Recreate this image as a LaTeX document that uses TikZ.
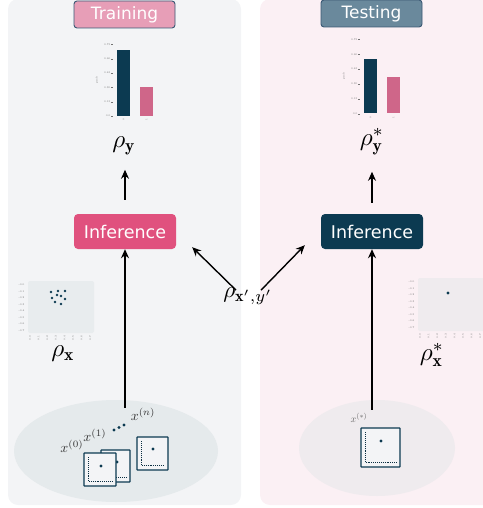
\documentclass[tikz,border=0pt]{standalone}
\usepackage{amsmath}
\usepackage{amssymb}
\usepackage{fontspec}
\setsansfont{DejaVu Sans}
\usetikzlibrary{arrows.meta,shapes.geometric}

\definecolor{panelL}{HTML}{F3F4F6}
\definecolor{panelR}{HTML}{FBF0F4}
\definecolor{navy}{HTML}{0C3A51}
\definecolor{rose}{HTML}{CF6689}
\definecolor{hot}{HTML}{E0517E}
\definecolor{tagpink}{HTML}{E79EB7}
\definecolor{tagblue}{HTML}{6A899C}
\definecolor{tagline}{HTML}{3A5874}
\definecolor{plotbg}{HTML}{E8ECEE}
\definecolor{plotbgR}{HTML}{EFEBEE}
\definecolor{cloudL}{HTML}{E5EAEC}
\definecolor{cloudR}{HTML}{EFEBEE}

\tikzset{
  tag/.style={draw=tagline, line width=0.9pt, rounded corners=3pt, text=white,
    font=\sffamily\fontsize{17}{17}\selectfont, minimum width=101pt, minimum height=27pt, inner sep=0pt},
  inferbox/.style={rounded corners=4pt, text=white,
    font=\sffamily\fontsize{17.5}{18}\selectfont, minimum width=102pt, minimum height=35pt, inner sep=0pt},
  mathlbl/.style={scale=2.5, inner sep=0.5pt},
  setlbl/.style={scale=1.4, inner sep=0pt, text=black!80},
  flow/.style={-{Stealth[length=9pt,width=8pt]}, line width=1.4pt},
  thumbbox/.style={draw=navy, line width=1.2pt, fill=panelL, inner sep=0pt, rounded corners=0.5pt},
  tick/.style={font=\fontsize{2.6}{3}\selectfont, text=black!55, inner sep=0.3pt},
}

% a small framed sample: name, centre, width, height, dot offset
\newcommand{\thumb}[6]{%
  \node[thumbbox, minimum width=#3pt, minimum height=#4pt] (#1) at (#2) {};
  \draw[navy!80!black, densely dotted, line width=0.9pt]
    ([shift={(5pt,-5pt)}]#1.north west) -- ([shift={(5pt,5pt)}]#1.south west)
    -- ([shift={(-4pt,5pt)}]#1.south east);
  \fill[navy] ([shift={(#5pt,#6pt)}]#1.center) circle (1.6pt);
}

\begin{document}
\begin{tikzpicture}[x=1pt,y=-1pt]
  \useasboundingbox (0,0) rectangle (482,508);

  % panels
  \fill[panelL, rounded corners=10pt] (8,-1) rectangle (241,505);
  \fill[panelR, rounded corners=10pt] (260,-1) rectangle (500,505);

  \node[tag, fill=tagpink] (train) at (124.5,14.5) {Training};
  \node[tag, fill=tagblue] (test) at (371.5,13.5) {Testing};

  % bar chart, training
  \fill[navy] (117,50) rectangle (130,116);
  \fill[rose] (140,87) rectangle (153,116);
  \foreach \v/\yy in {0.0/116,0.15/101.7,0.30/87.4,0.45/73.1,0.60/58.8,0.75/44.5}{
    \node[tick, anchor=east] at (111,\yy) {\v};
    \draw[black!55, line width=0.3pt] (111,\yy) -- (112.5,\yy);
  }
  \node[tick, rotate=90] at (97,80) {prob};
  \node[tick, rotate=90, anchor=east] at (123.5,118) {0};
  \node[tick, rotate=90, anchor=east] at (146.5,118) {1};

  % bar chart, testing
  \fill[navy] (364,59) rectangle (377,113);
  \fill[rose] (387,77) rectangle (400,113);
  \foreach \v/\yy in {0.0/114,0.15/99,0.30/84,0.45/69,0.60/54.5,0.75/39.5}{
    \node[tick, anchor=east] at (358,\yy) {\v};
    \draw[black!55, line width=0.3pt] (358,\yy) -- (359.5,\yy);
  }
  \node[tick, rotate=90] at (344,76) {prob};
  \node[tick, rotate=90, anchor=east] at (370.5,116) {0};
  \node[tick, rotate=90, anchor=east] at (393.5,116) {1};

  \node[mathlbl] (rhoy) at (124,146) {$\rho_{\mathbf{y}}$};
  \node[mathlbl] (rhoys) at (372,142) {$\rho^{*}_{\mathbf{y}}$};

  % inference
  \node[inferbox, fill=hot] (infL) at (125,231.5) {Inference};
  \node[inferbox, fill=navy] (infR) at (372,231.5) {Inference};

  % scatter, training
  \fill[plotbg, rounded corners=2pt] (28,281) rectangle (94,333);
  \foreach \t in {0,...,7}{
    \node[tick, anchor=east] at (25,285+6.5*\t) {-0.\t};
    \node[tick, rotate=90, anchor=east] at (30+8.6*\t,335) {0.\t};
  }
  \foreach \px/\py in {51/292,58/291,65/291,57/295,52/298,61/296,65/299,55/302,61/304}
    \fill[navy] (\px,\py) circle (1.3pt);
  \node[mathlbl] (rhox) at (63,354) {$\rho_{\mathbf{x}}$};

  % scatter, testing
  \fill[plotbgR, rounded corners=2pt] (418,278) rectangle (490,331);
  \foreach \t in {0,...,7}{
    \node[tick, anchor=east] at (415,282+6.5*\t) {-0.\t};
    \node[tick, rotate=90, anchor=east] at (420+8.6*\t,333) {0.\t};
  }
  \fill[navy] (448,293) circle (1.6pt);
  \node[mathlbl] (rhoxs) at (432,355) {$\rho^{*}_{\mathbf{x}}$};

  % sample sets
  \node[ellipse, fill=cloudL, minimum width=204pt, minimum height=102pt] (setL) at (116,451) {};
  \node[ellipse, fill=cloudR, minimum width=156pt, minimum height=96pt] (setR) at (377,448) {};

  \node[setlbl] (x0) at (72,446) {$x^{(0)}$};
  \node[setlbl] (x1) at (95,435) {$x^{(1)}$};
  \foreach \dx/\dy in {0/0,5/-2.5,10/-5}
    \fill[navy] (114+\dx,430+\dy) circle (1.6pt);
  \node[setlbl] (xn) at (143,414) {$x^{(n)}$};
  \node[setlbl, scale=0.72, text=black!60] (xs) at (359,418) {$x^{(*)}$};

  \thumb{s1}{115.5,466}{29}{32}{1.5}{4}
  \thumb{s0}{100,469.5}{32}{33}{1}{3.5}
  \thumb{sn}{152.5,453.5}{31}{33}{0.5}{4.5}
  \thumb{st}{380.5,447.5}{39}{39}{0.5}{6.5}

  % arrows
  \draw[flow] ([yshift=-8pt]infL.south |- setL.north) -- (infL.south);
  \draw[flow] ([yshift=14pt]infL.north) -- ([yshift=44pt]infL.north);
  \draw[flow] ([yshift=-10pt]infR.south |- setR.north) -- (infR.south);
  \draw[flow] ([yshift=11pt]infR.north) -- ([yshift=42pt]infR.north);

  \node[mathlbl, scale=0.92] (rhoxy) at (248,296) {$\rho_{\mathbf{x}',y'}$};
  \draw[flow] ([xshift=-12pt,yshift=-4pt]rhoxy.north) -- ([xshift=16pt,yshift=2pt]infL.south east);
  \draw[flow] ([xshift=13pt,yshift=-4pt]rhoxy.north) -- ([xshift=-16pt,yshift=4pt]infR.south west);
\end{tikzpicture}
\end{document}
